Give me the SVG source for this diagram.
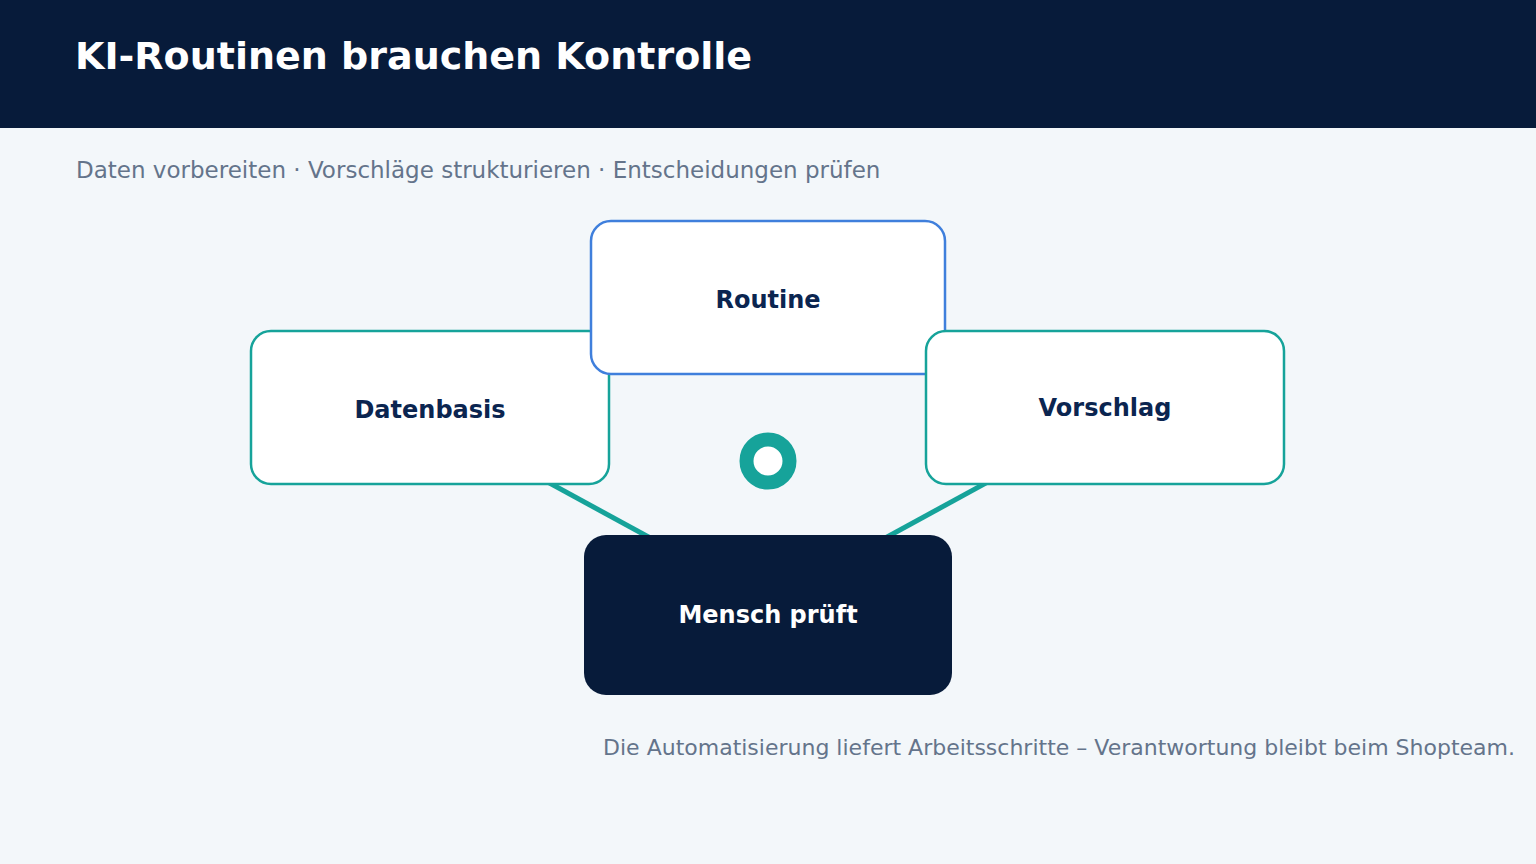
<svg xmlns="http://www.w3.org/2000/svg" width="1536" height="864" viewBox="0 0 1536 864">
<style>
.bg{fill:#F3F7FA}
.hdr{fill:#071B3A}
.title{font-family:"DejaVu Sans",sans-serif;font-weight:bold;font-size:38px;fill:#FFFFFF}
.sub{font-family:"DejaVu Sans",sans-serif;font-size:23px;fill:#64748B}
.foot{font-family:"DejaVu Sans",sans-serif;font-size:22px;fill:#64748B}
.card{fill:#FFFFFF;stroke-width:2.5}
.teal{stroke:#16A39A}
.blue{stroke:#3F7FDC}
.lbl{font-family:"DejaVu Sans",sans-serif;font-weight:bold;font-size:24px;fill:#0B2550;text-anchor:middle}
.lblw{font-family:"DejaVu Sans",sans-serif;font-weight:bold;font-size:24px;fill:#FFFFFF;text-anchor:middle}
.conn{stroke:#16A39A;stroke-width:5;fill:none}
</style>
<rect class="bg" x="0" y="0" width="1536" height="864"/>
<rect class="hdr" x="0" y="0" width="1536" height="128"/>
<text class="title" x="75" y="69">KI-Routinen brauchen Kontrolle</text>
<text class="sub" x="76" y="178">Daten vorbereiten · Vorschläge strukturieren · Entscheidungen prüfen</text>
<g id="connectors">
<line class="conn" x1="430" y1="418" x2="768" y2="602"/>
<line class="conn" x1="1105" y1="418" x2="768" y2="602"/>
</g>
<g id="datenbasis">
<rect class="card teal" x="251" y="331" width="358" height="153" rx="20"/>
<text class="lbl" x="430" y="418">Datenbasis</text>
</g>
<g id="routine">
<rect class="card blue" x="591" y="221" width="354" height="153" rx="20"/>
<text class="lbl" x="768" y="308">Routine</text>
</g>
<g id="vorschlag">
<rect class="card teal" x="926" y="331" width="358" height="153" rx="20"/>
<text class="lbl" x="1105" y="416">Vorschlag</text>
</g>
<g id="hub">
<circle cx="768" cy="461" r="21.5" fill="#FFFFFF" stroke="#16A39A" stroke-width="14"/>
</g>
<g id="mensch">
<rect x="584" y="535" width="368" height="160" rx="22" fill="#071B3A"/>
<text class="lblw" x="768" y="623">Mensch prüft</text>
</g>
<text class="foot" x="1515" y="755" text-anchor="end">Die Automatisierung liefert Arbeitsschritte – Verantwortung bleibt beim Shopteam.</text>
</svg>
